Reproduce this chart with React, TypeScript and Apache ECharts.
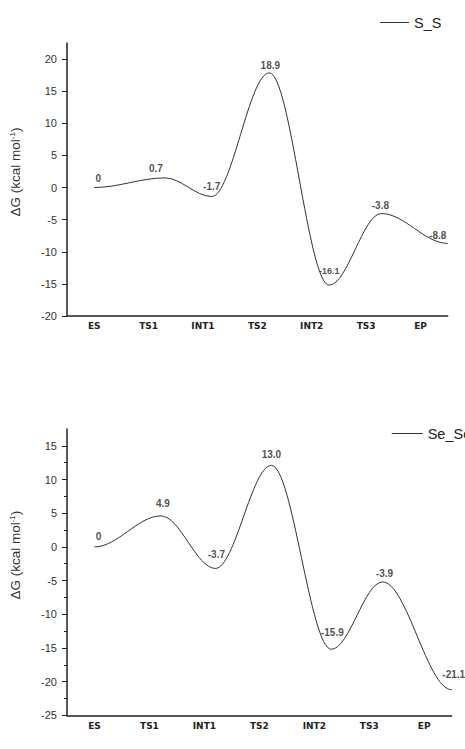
import { useEffect, useRef } from "react";
import * as echarts from "echarts";

// ---- data ----
const categories = ["ES", "TS1", "INT1", "TS2", "INT2", "TS3", "EP"];
const categoryIndex = [0, 1, 2, 3, 4, 5, 6];

// S_S profile: x in category units (curve extrema), y in kcal/mol
const ssX = [0, 1.3, 2.16, 3.22, 4.32, 5.28, 6.5];
const ssY = [0, 1.5, -1.4, 17.85, -15.2, -4.05, -8.7];
const ssLabels = ["0", "0.7", "-1.7", "18.9", "-16.1", "-3.8", "-8.8"];

// Se_Se profile
const seX = [0, 1.21, 2.2, 3.22, 4.31, 5.24, 6.5];
const seY = [0, 4.6, -3.2, 12.1, -15.2, -5.2, -21.2];
const seLabels = ["0", "4.9", "-3.7", "13.0", "-15.9", "-3.9", "-21.1"];

const ssTicks = [-20, -15, -10, -5, 0, 5, 10, 15, 20];
const seTicks = [-25, -20, -15, -10, -5, 0, 5, 10, 15];

// label offsets (style only)
const ssLabelOffsets = [[4, 1], [-9, 1.5], [0, 0], [1, 3], [0, -4], [-1, 2], [-10, 3]];
const seLabelOffsets = [[4, 0], [2, -2], [1, -3], [0, 0], [1, -6], [2, 1.6], [2, -5]];

const FONT = "'Liberation Sans', Arial, sans-serif";
const CURVE_K = 0.35;

function curveSeries(name: string, xs: number[], ys: number[], axis: number) {
  return {
    name,
    type: "custom",
    xAxisIndex: axis,
    yAxisIndex: axis,
    clip: false,
    itemStyle: { color: "#333" },
    data: xs.map((x, i) => [x, ys[i]]),
    renderItem: (params: any, api: any) => {
      const i = params.dataIndex;
      if (i === 0) return { type: "group", children: [] };
      const p0 = api.coord([xs[i - 1], ys[i - 1]]);
      const p1 = api.coord([api.value(0), api.value(1)]);
      const dx = p1[0] - p0[0];
      return {
        type: "bezierCurve",
        shape: {
          x1: p0[0],
          y1: p0[1],
          x2: p1[0],
          y2: p1[1],
          cpx1: p0[0] + dx * CURVE_K,
          cpy1: p0[1],
          cpx2: p1[0] - dx * CURVE_K,
          cpy2: p1[1],
        },
        style: { stroke: "#333", lineWidth: 1, fill: null },
      };
    },
  };
}

function labelSeries(xs: number[], ys: number[], labels: string[], offsets: number[][], axis: number) {
  return {
    type: "scatter",
    xAxisIndex: axis,
    yAxisIndex: axis,
    symbolSize: 1,
    itemStyle: { color: "transparent" },
    silent: true,
    data: xs.map((x, i) => ({
      value: [x, ys[i]],
      label: {
        show: true,
        position: "top",
        formatter: labels[i],
        offset: offsets[i],
        fontSize: axis === 0 && i === 4 ? 9 : 10,
        fontWeight: "bold",
        fontFamily: FONT,
        color: "#222",
      },
    })),
  };
}

function yAxis(gridIndex: number, min: number, max: number, ticks: number[], minor: boolean, namePad: number) {
  return {
    type: "value",
    gridIndex,
    min,
    max,
    interval: 5,
    splitLine: { show: false },
    axisLine: { show: true, onZero: false, lineStyle: { color: "#222", width: 1.5 } },
    axisTick: { show: true, length: 5, customValues: ticks, lineStyle: { color: "#222", width: 1 } },
    minorTick: { show: minor, splitNumber: 2, length: 3, lineStyle: { color: "#222", width: 1 } },
    axisLabel: {
      customValues: ticks,
      margin: 10,
      fontSize: 11,
      fontFamily: FONT,
      color: "#333",
    },
    name: "ΔG (kcal mol{sup|-1})",
    nameLocation: "middle",
    nameRotate: 90,
    nameGap: 44,
    nameTextStyle: {
      fontSize: 13.5,
      fontFamily: FONT,
      color: "#333",
      padding: [0, 0, 0, namePad],
      rich: {
        sup: { fontSize: 8, fontFamily: FONT, color: "#333", padding: [0, 0, 7, 0] },
      },
    },
  };
}

function xAxis(gridIndex: number, margin: number) {
  return {
    type: "value",
    gridIndex,
    min: -0.5,
    max: 6.5,
    splitLine: { show: false },
    axisLine: { show: true, onZero: false, lineStyle: { color: "#222", width: 1.5 } },
    axisTick: { show: false },
    axisLabel: {
      customValues: categoryIndex,
      formatter: (v: number) => categories[Math.round(v)] ?? "",
      margin,
      fontSize: 9,
      fontWeight: "bold",
      fontFamily: "'DejaVu Sans', sans-serif",
      color: "#222",
    },
  };
}

function legend(name: string, left: number, top: number, width: number) {
  return {
    data: [{ name, icon: "rect" }],
    left,
    top,
    padding: 0,
    itemWidth: width,
    itemHeight: 1,
    itemGap: 5,
    textStyle: { fontSize: 14.5, fontFamily: FONT, color: "#222" },
  };
}

export default function App() {
  const ref = useRef<HTMLDivElement>(null);
  useEffect(() => {
    if (!ref.current) return;
    const chart = echarts.init(ref.current, undefined, { renderer: "svg" });
    chart.setOption({
      animation: false,
      backgroundColor: "#fff",
      grid: [
        { left: 64.5, right: 17.3, top: 43, height: 273 },
        { left: 62, right: 13.3, top: 429, height: 286.3 },
      ],
      xAxis: [xAxis(0, 5), xAxis(1, 6)],
      yAxis: [yAxis(0, -20, 22.5, ssTicks, false, 15), yAxis(1, -25, 17.5, seTicks, true, 34)],
      legend: [legend("S_S", 380, 15, 29), legend("Se_Se", 391.7, 426, 31)],
      series: [
        curveSeries("S_S", ssX, ssY, 0),
        labelSeries(ssX, ssY, ssLabels, ssLabelOffsets, 0),
        curveSeries("Se_Se", seX, seY, 1),
        labelSeries(seX, seY, seLabels, seLabelOffsets, 1),
      ],
    });
    return () => chart.dispose();
  }, []);
  return (
    <div
      ref={ref}
      style={{ position: "absolute", left: 0, top: 0, width: 465, height: 749, background: "#fff" }}
    />
  );
}
